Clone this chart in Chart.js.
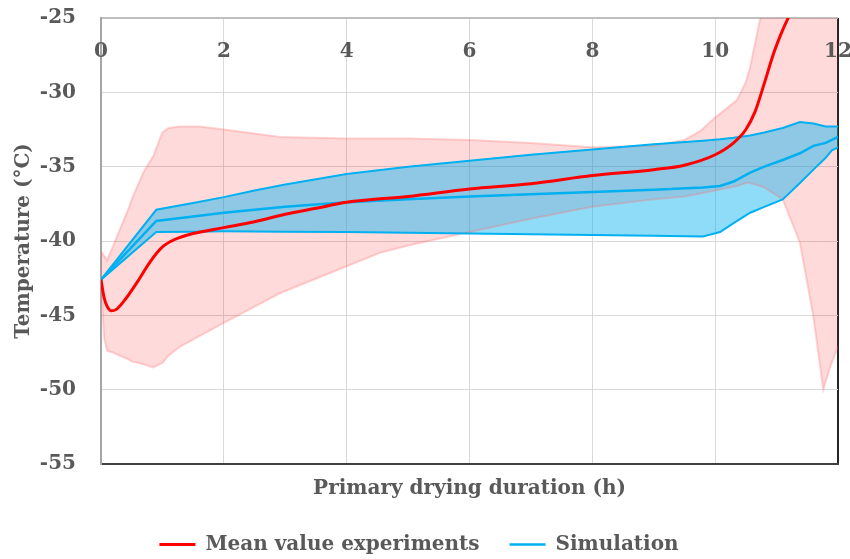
<!DOCTYPE html>
<html>
<head>
<meta charset="utf-8">
<script src="https://cdn.jsdelivr.net/npm/chart.js@4/dist/chart.umd.min.js"></script>
<style>
  html, body { margin: 0; padding: 0; background: #fff; }
  #wrap { width: 850px; height: 559px; }
</style>
</head>
<body>
<div id="wrap"><canvas id="chart"></canvas></div>
<script>
// Mean product temperature from the experiments (h, °C)
const meanExpX = [0, 0.05, 0.1, 0.17, 0.25, 0.4, 0.6, 0.8, 1.0, 1.2, 1.5, 2.0, 2.5, 3.0, 3.5, 4.0, 5.0, 6.0, 7.0, 8.0, 9.0, 9.5, 10.0, 10.3, 10.5, 10.65, 10.8, 10.95, 11.1, 11.2, 11.3];
const meanExpY = [-42.6, -43.8, -44.4, -44.7, -44.6, -43.9, -42.7, -41.4, -40.4, -39.9, -39.5, -39.1, -38.7, -38.2, -37.8, -37.4, -37.0, -36.5, -36.15, -35.6, -35.2, -34.9, -34.2, -33.4, -32.5, -31.3, -29.4, -27.4, -25.8, -24.9, -24.0];

// Experimental spread (min / max over the vials)
const expBandX = [0, 0.05, 0.1, 0.2, 0.3, 0.47, 0.5, 0.7, 0.85, 1.0, 1.1, 1.29, 1.6, 2.0, 2.92, 4.0, 4.54, 5.0, 6.0, 7.0, 8.0, 9.0, 9.5, 9.76, 10.0, 10.36, 10.5, 10.57, 10.73, 10.8, 11.1, 11.38, 11.6, 11.76, 11.87, 12.0];
const expMaxY = [-40.7, -41.0, -41.3, -40.3, -39.3, -37.6, -37.2, -35.3, -34.3, -32.7, -32.4, -32.3, -32.3, -32.5, -33.0, -33.1, -33.1, -33.1, -33.2, -33.4, -33.7, -33.6, -33.2, -32.6, -31.7, -30.5, -29.3, -28.3, -25.1, -24.0, -24.0, -24.0, -24.0, -24.0, -24.0, -24.0];
const expMinY = [-42.6, -46.5, -47.4, -47.5, -47.7, -48.0, -48.1, -48.3, -48.5, -48.2, -47.7, -47.1, -46.4, -45.5, -43.5, -41.7, -40.8, -40.3, -39.4, -38.5, -37.7, -37.2, -37.0, -36.8, -36.6, -36.3, -36.1, -36.1, -36.3, -36.4, -37.2, -40.1, -45.1, -50.0, -48.5, -47.1];

// Simulated product temperature with its uncertainty band
const simX = [0, 0.9, 1.5, 2.0, 2.5, 3.0, 4.0, 5.0, 6.0, 7.0, 8.0, 9.0, 9.8, 10.08, 10.3, 10.57, 10.8, 11.1, 11.38, 11.6, 11.8, 11.9, 12.0];
const simMeanY = [-42.6, -38.65, -38.35, -38.1, -37.9, -37.7, -37.4, -37.2, -37.0, -36.85, -36.7, -36.55, -36.4, -36.3, -36.0, -35.4, -35.0, -34.55, -34.1, -33.6, -33.4, -33.2, -33.0];
const simMaxY = [-42.6, -37.9, -37.45, -37.05, -36.6, -36.2, -35.5, -35.0, -34.6, -34.2, -33.85, -33.5, -33.25, -33.15, -33.05, -32.9, -32.7, -32.4, -32.0, -32.1, -32.3, -32.3, -32.3];
const simMinY = [-42.6, -39.4, -39.38, -39.35, -39.36, -39.38, -39.4, -39.45, -39.5, -39.55, -39.6, -39.65, -39.7, -39.4, -38.8, -38.1, -37.7, -37.2, -36.1, -35.2, -34.4, -33.9, -33.7];

const xTicks = [0, 2, 4, 6, 8, 10, 12];
const yTicks = [-25, -30, -35, -40, -45, -50, -55];

const pts = (xs, ys) => xs.map((x, i) => ({ x: x, y: ys[i] }));

const FONT = "'DejaVu Serif', serif";
const TEXT = '#595959';
const BLUE = '#00B0F0';

// tick labels: x labels sit just under the top edge, inside the plot;
// y labels are right-aligned a fixed gap left of the axis
const tickLabels = {
  id: 'tickLabels',
  afterDraw(chart) {
    const { ctx, chartArea } = chart;
    const xs = chart.scales.x;
    const ys = chart.scales.y;
    ctx.save();
    ctx.font = 'bold 20px ' + FONT;
    ctx.fillStyle = TEXT;
    ctx.textBaseline = 'middle';
    ctx.textAlign = 'center';
    xTicks.forEach(v => {
      ctx.fillText(String(v), xs.getPixelForValue(v), chartArea.top + 34);
    });
    ctx.textAlign = 'right';
    yTicks.forEach(v => {
      ctx.fillText(String(v), chartArea.left - 25, ys.getPixelForValue(v));
    });
    ctx.restore();
  }
};

const lineStyle = (color, width) => ({
  borderColor: color,
  borderWidth: width,
  pointRadius: 0,
  tension: 0,
  fill: false
});

new Chart(document.getElementById('chart'), {
  type: 'line',
  data: {
    datasets: [
      Object.assign(lineStyle('#FF0000', 3), {
        label: 'Mean value experiments',
        data: pts(meanExpX, meanExpY),
        cubicInterpolationMode: 'monotone'
      }),
      Object.assign(lineStyle(BLUE, 2.5), {
        label: 'Simulation',
        data: pts(simX, simMeanY)
      }),
      Object.assign(lineStyle(BLUE, 2), {
        label: 'sim max',
        data: pts(simX, simMaxY),
        backgroundColor: 'rgba(0, 176, 240, 0.44)',
        fill: '+1'
      }),
      Object.assign(lineStyle(BLUE, 2), {
        label: 'sim min',
        data: pts(simX, simMinY)
      }),
      Object.assign(lineStyle('rgba(255, 110, 110, 0.3)', 2), {
        label: 'exp max',
        data: pts(expBandX, expMaxY),
        backgroundColor: 'rgba(255, 0, 0, 0.145)',
        fill: '+1'
      }),
      Object.assign(lineStyle('rgba(255, 110, 110, 0.3)', 2), {
        label: 'exp min',
        data: pts(expBandX, expMinY)
      })
    ]
  },
  options: {
    responsive: true,
    maintainAspectRatio: false,
    animation: false,
    layout: { padding: { left: 0, right: 12, top: 18, bottom: 0 } },
    scales: {
      x: {
        type: 'linear',
        min: 0,
        max: 12,
        ticks: { display: false, stepSize: 2 },
        grid: {
          drawTicks: false,
          color: ctx => (ctx.tick && ctx.tick.value === 12) ? '#262626' : '#D9D9D9',
          lineWidth: ctx => (ctx.tick && ctx.tick.value === 12) ? 2 : 1
        },
        border: { color: '#404040', width: 2 },
        title: {
          display: true,
          text: 'Primary drying duration (h)',
          color: TEXT,
          font: { family: FONT, size: 20, weight: 'bold' },
          padding: { top: 0, bottom: 4 }
        },
        afterFit: s => { s.height = 40.5; }
      },
      y: {
        min: -55,
        max: -25,
        ticks: { display: false, stepSize: 5 },
        grid: {
          drawTicks: false,
          color: ctx => (ctx.tick && ctx.tick.value === -25) ? '#BFBFBF' : '#D9D9D9',
          lineWidth: ctx => (ctx.tick && ctx.tick.value === -25) ? 2 : 1
        },
        border: { color: '#A6A6A6', width: 2 },
        title: {
          display: true,
          text: 'Temperature (°C)',
          color: TEXT,
          font: { family: FONT, size: 20, weight: 'bold' },
          padding: { top: 12, bottom: 0 }
        },
        afterFit: s => { s.width = 101; }
      }
    },
    plugins: {
      filler: { drawTime: 'beforeDatasetsDraw' },
      tooltip: { enabled: false },
      legend: {
        position: 'bottom',
        maxHeight: 54.5,
        labels: {
          filter: item => item.datasetIndex < 2,
          usePointStyle: true,
          pointStyle: 'line',
          pointStyleWidth: 36,
          padding: 30,
          color: TEXT,
          font: { family: FONT, size: 20, weight: 'bold' }
        }
      }
    }
  },
  plugins: [tickLabels]
});
</script>
</body>
</html>
